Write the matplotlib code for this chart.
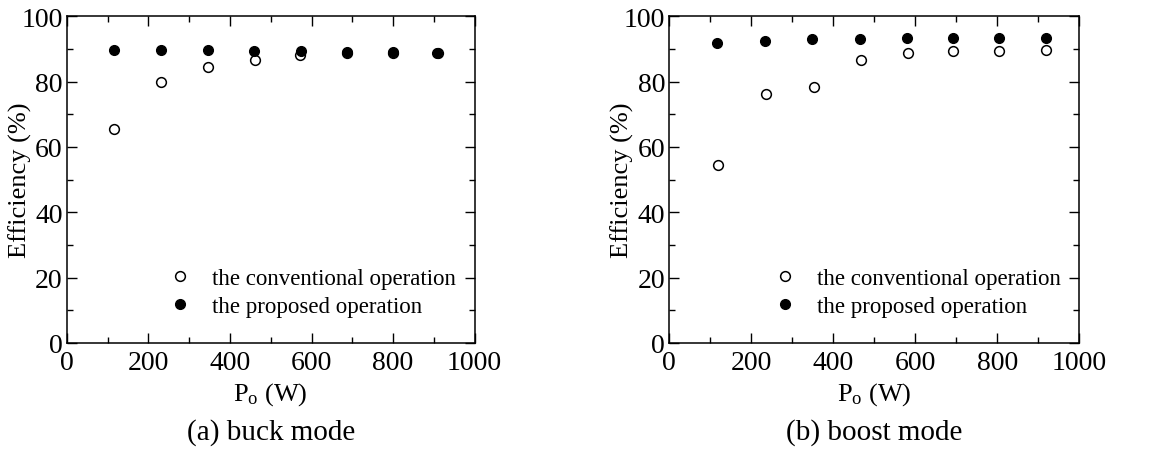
import matplotlib
matplotlib.use("Agg")
import matplotlib.pyplot as plt

plt.rcParams["font.family"] = "Liberation Serif"
plt.rcParams["mathtext.fontset"] = "custom"
plt.rcParams["mathtext.rm"] = "Liberation Serif"

# buck mode
buck_po_conv = [115, 232, 347, 461, 572, 686, 800, 911]
buck_eff_conv = [65.6, 79.9, 84.4, 86.6, 88.1, 88.8, 88.8, 88.8]
buck_po_prop = [115, 232, 345, 460, 574, 686, 800, 908]
buck_eff_prop = [89.6, 89.6, 89.6, 89.4, 89.4, 88.9, 89.0, 88.8]

# boost mode
boost_po_conv = [119, 236, 353, 468, 583, 693, 805, 918]
boost_eff_conv = [54.4, 76.1, 78.4, 86.5, 88.7, 89.2, 89.2, 89.5]
boost_po_prop = [116, 234, 348, 465, 580, 693, 805, 918]
boost_eff_prop = [91.9, 92.3, 92.9, 93.1, 93.3, 93.3, 93.3, 93.3]

captions = ["(a) buck mode", "(b) boost mode"]
legend_labels = ["the conventional operation", "the proposed operation"]

fig = plt.figure(figsize=(11.72, 4.52), dpi=100)
ax_a = fig.add_axes([0.057, 0.239, 0.348, 0.723])
ax_b = fig.add_axes([0.571, 0.239, 0.350, 0.723])

panels = [
    (ax_a, buck_po_conv, buck_eff_conv, buck_po_prop, buck_eff_prop),
    (ax_b, boost_po_conv, boost_eff_conv, boost_po_prop, boost_eff_prop),
]

for (ax, xc, yc, xp, yp), cap in zip(panels, captions):
    ax.plot(xc, yc, "o", ls="none", mfc="white", mec="black", mew=1.1, ms=7,
            label=legend_labels[0])
    ax.plot(xp, yp, "o", ls="none", mfc="black", mec="black", ms=7,
            label=legend_labels[1])
    ax.set_xlim(0, 1000)
    ax.set_ylim(0, 100)
    ax.set_xticks(range(0, 1001, 200))
    ax.set_xticks(range(100, 1000, 200), minor=True)
    ax.set_yticks(range(0, 101, 20))
    ax.set_yticks(range(10, 100, 20), minor=True)
    ax.tick_params(which="both", direction="in", top=True, right=True,
                   labelsize=20)
    ax.tick_params(axis="x", pad=5)
    ax.tick_params(axis="y", pad=3)
    ax.tick_params(which="major", length=7, width=1)
    ax.tick_params(which="minor", length=4, width=1)
    for s in ax.spines.values():
        s.set_linewidth(1.1)
    ax.set_xlabel(r"$\mathregular{P_o}$ (W)", fontsize=19, va="center")
    ax.xaxis.set_label_coords(0.5, -0.155)
    ax.set_ylabel("Efficiency (%)", fontsize=19, va="center")
    ax.yaxis.set_label_coords(-0.115, 0.5)
    ax.legend(loc="lower right", bbox_to_anchor=(0.955, 0.08), frameon=False,
              fontsize=16.5, handletextpad=0.8, labelspacing=0.3,
              handlelength=1.2, borderaxespad=0, borderpad=0)
    ax.text(0.5, -0.272, cap, transform=ax.transAxes, ha="center", va="center",
            fontsize=21)

fig.savefig("out.png", dpi=100)
